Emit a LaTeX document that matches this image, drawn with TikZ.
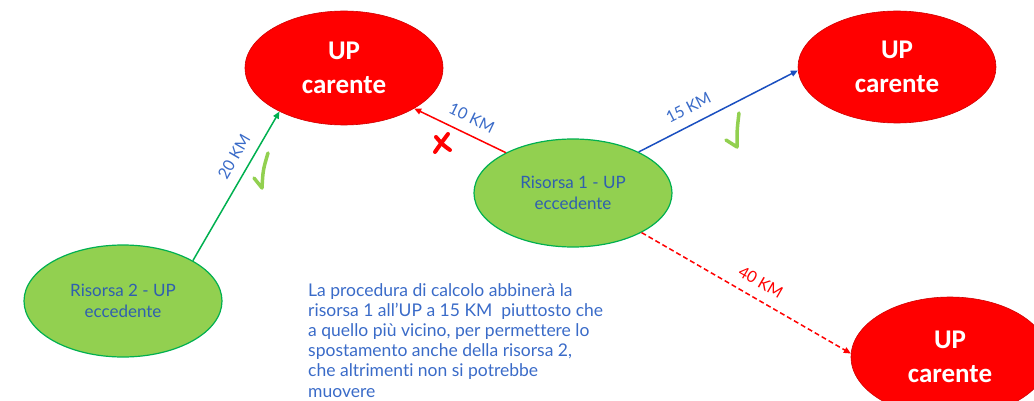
\documentclass[tikz,border=0pt]{standalone}
\usepackage{fontspec}
\setmainfont{Lato}[Ligatures=NoCommon]
\newfontfamily\carlito{Carlito}
\usepackage{xcolor}
\usetikzlibrary{arrows.meta,shapes.geometric}

\definecolor{upred}{HTML}{FF0000}
\definecolor{upredline}{HTML}{D00000}
\definecolor{resgreen}{HTML}{92D050}
\definecolor{resline}{HTML}{00B050}
\definecolor{textblue}{HTML}{3A6BC8}
\definecolor{resblue}{HTML}{2F5FAF}
\definecolor{arrowblue}{HTML}{1A4FC0}
\definecolor{ticklime}{HTML}{92D050}

\tikzset{
  carente/.style={ellipse, fill=upred, draw=upredline, line width=0.6pt, inner sep=0pt,
    minimum width=198pt, minimum height=114pt, text=white, align=center,
    font=\carlito\bfseries\fontsize{27}{34}\selectfont},
  eccedente/.style={ellipse, fill=resgreen, draw=resline, line width=1.2pt, inner sep=0pt,
    minimum width=198pt, minimum height=108pt, text=resblue, align=center,
    font=\fontsize{17}{21}\selectfont},
  km/.style={sloped, above=8pt, inner sep=2pt, font=\fontsize{16}{18}\selectfont, text=textblue},
  tip/.style={-{Triangle[length=7pt,width=6pt]}},
  tick/.style={draw=ticklime, line width=3.5pt, line cap=round, line join=round},
  cross/.style={draw=upred, line width=4pt, line cap=round}
}

\begin{document}
\begin{tikzpicture}[x=1pt, y=-1pt]
        \useasboundingbox (0,0) rectangle (1034,401);
        \clip (0,0) rectangle (1034,401);

        \node[carente] (u1) at (344,68) {UP\\carente};
        \node[carente, minimum height=112pt] (u2) at (897,67) {UP\\carente};
        \node[carente, minimum height=120pt] (u3) at (950,357) {UP\\carente};
        \node[eccedente] (r1) at (573,193) {Risorsa 1 - UP\\eccedente};
        \node[eccedente, minimum height=112pt] (r2) at (123,301) {Risorsa 2 - UP\\eccedente};

        \draw (r2.30) edge[tip, draw=resline, line width=1.5pt] node[km, pos=0.64] {20 KM} (u1.214);
        \draw (r1.149) edge[tip, draw=upred, line width=1.5pt] node[km, pos=0.45] {10 KM} (u1.330);
        \draw (r1.32) edge[tip, draw=arrowblue, line width=1.5pt] node[km, pos=0.36] {15 KM} (u2.182);
        \draw (r1.330) edge[tip, draw=upred, line width=1.5pt, dash pattern=on 5pt off 3pt] node[km, pos=0.53, text=upred] {40 KM} (u3.178);

        % spunte e croce
        \path[tick] (254,178) -- (262,188) .. controls (263,170) .. (268,153);
        \path[tick] (726,140) -- (737,147) .. controls (737,130) .. (739,113);
        \path[cross] (436,137) .. controls (443,145) .. (450,150);
        \path[cross] (448,134) .. controls (442,142) .. (435,152);

        \node[anchor=north west, inner sep=0pt, align=left, text=textblue,
          font=\fontsize{17.5}{20.2}\selectfont] (nota) at (308,283)
          {La procedura di calcolo abbinerà la\\
           risorsa 1 all’UP a 15 KM~ piuttosto che\\
           a quello più vicino, per permettere lo\\
           spostamento anche della risorsa 2,\\
           che altrimenti non si potrebbe\\
           muovere};
    \end{tikzpicture}
\end{document}
